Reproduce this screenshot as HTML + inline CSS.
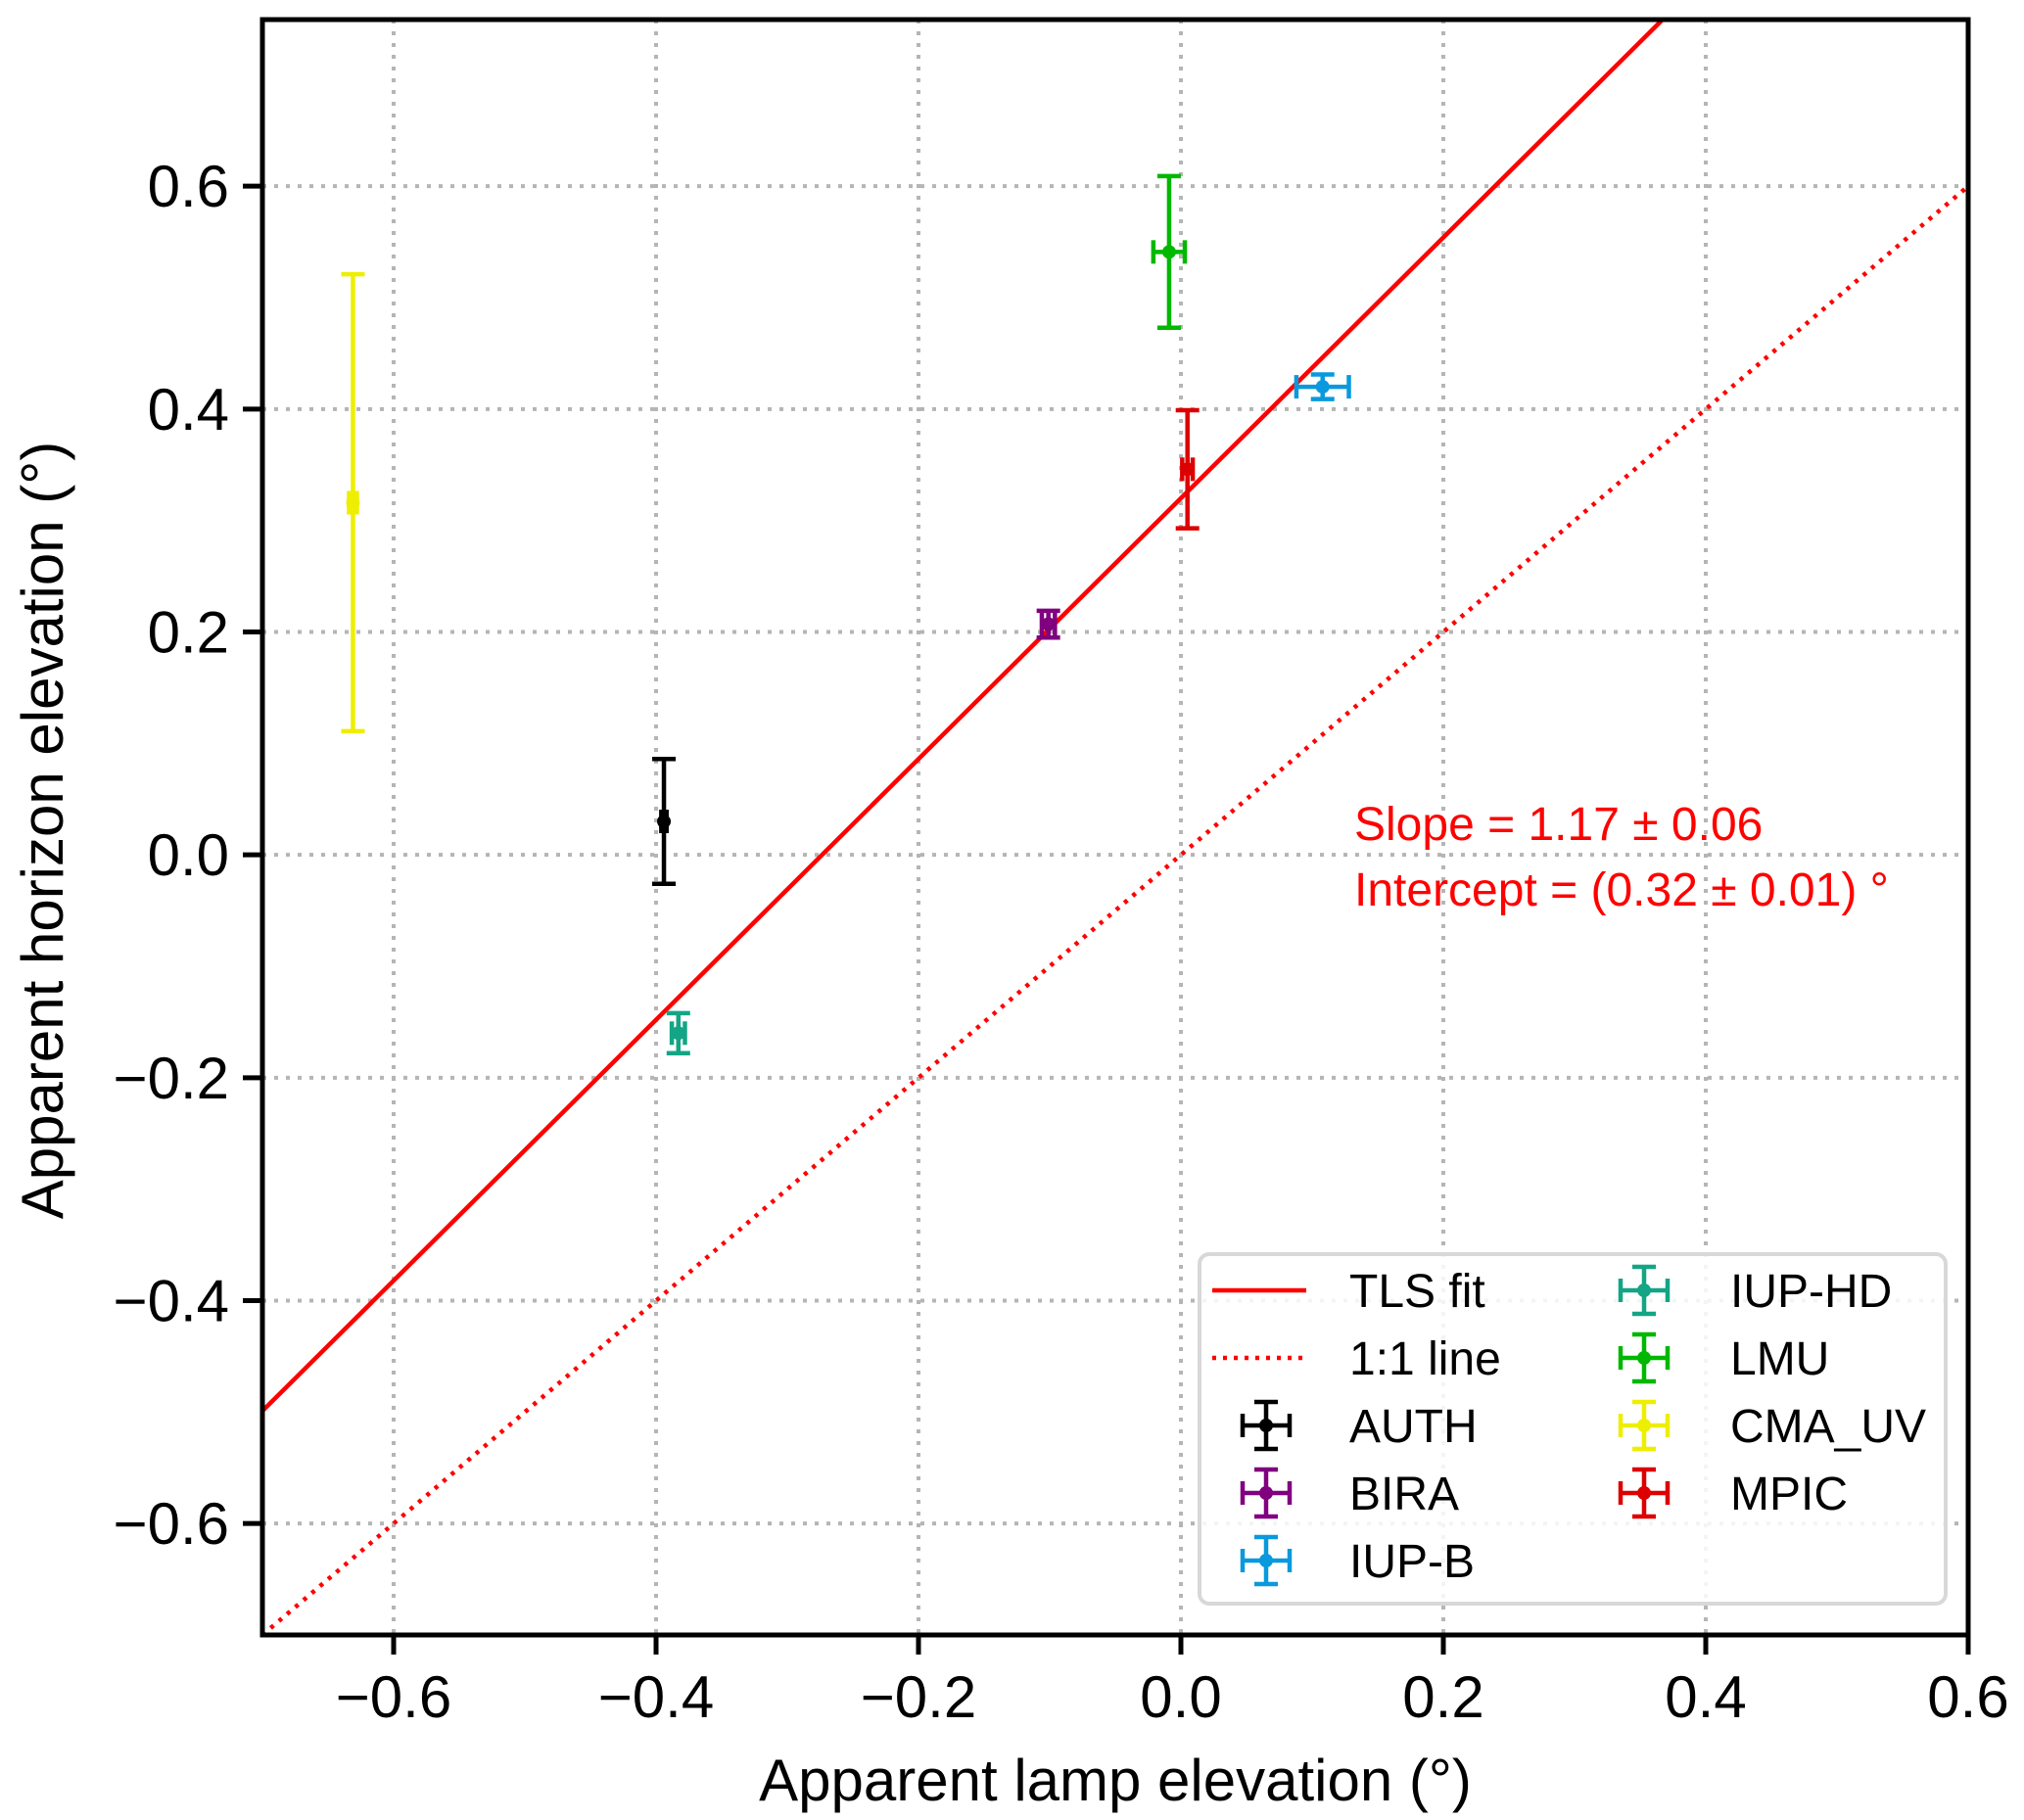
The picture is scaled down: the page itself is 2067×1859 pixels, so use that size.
<!DOCTYPE html>
<html><head><meta charset="utf-8"><style>
html,body{margin:0;padding:0;background:#fff;}
svg{display:block;font-family:"Liberation Sans",Arial,sans-serif;}
</style></head><body>
<svg id="chart" width="2067" height="1859" viewBox="0 0 2067 1859" xmlns="http://www.w3.org/2000/svg">
<rect width="2067" height="1859" fill="#fff"/>
<g id="grid"></g>
<g id="lines"></g>
<g id="points"></g>
<g id="axes"></g>
<text x="1383" y="858" font-size="48" fill="#ff0000">Slope = 1.17 ± 0.06</text>
<text x="1383" y="925" font-size="48" fill="#ff0000">Intercept = (0.32 ± 0.01) °</text>
<g id="legend"></g>
<text x="1139" y="1839" font-size="60" text-anchor="middle">Apparent lamp elevation (°)</text>
<text transform="translate(64,848) rotate(-90)" font-size="60" text-anchor="middle">Apparent horizon elevation (°)</text>
</svg>
<script>
const names = ['AUTH','BIRA','IUP-B','IUP-HD','LMU','CMA_UV','MPIC'];
const colors = ['#000000','#800080','#0a99dd','#13a585','#00b800','#eeee00','#dd0000'];
const xVals = [-0.394,-0.101,0.108,-0.383,-0.009,-0.631,0.005];
const yVals = [0.030,0.207,0.420,-0.160,0.541,0.316,0.346];
const xErr = [0.002,0.005,0.020,0.005,0.012,0.003,0.004];
const yErr = [0.056,0.012,0.011,0.018,0.068,0.205,0.053];
const fitSlope = 1.17;
const fitIntercept = 0.32;
const xTicks = [-0.6,-0.4,-0.2,0.0,0.2,0.4,0.6];
const yTicks = [-0.6,-0.4,-0.2,0.0,0.2,0.4,0.6];
const xTickLabels = ['\u22120.6','\u22120.4','\u22120.2','0.0','0.2','0.4','0.6'];
const yTickLabels = ['\u22120.6','\u22120.4','\u22120.2','0.0','0.2','0.4','0.6'];

const X0=268, X1=2010, XMIN=-0.7, XMAX=0.6;
const Y0=1670, Y1=20, YMIN=-0.7, YMAX=0.7495;
const sx = v => X0 + (v-XMIN)/(XMAX-XMIN)*(X1-X0);
const sy = v => Y0 - (v-YMIN)/(YMAX-YMIN)*(Y0-Y1);
const NS='http://www.w3.org/2000/svg';
function mk(tag, attrs, parent){const e=document.createElementNS(NS,tag);for(const k in attrs)e.setAttribute(k,attrs[k]);parent.appendChild(e);return e;}

const grid=document.getElementById('grid');
xTicks.forEach(t=>{const l=mk('line',{x1:sx(t),x2:sx(t),y1:Y1,y2:Y0,stroke:'#b5b5b5','stroke-width':4,'stroke-dasharray':'4,8'},grid);

});
yTicks.forEach(t=>{const l=mk('line',{x1:X0,x2:X1,y1:sy(t),y2:sy(t),stroke:'#b5b5b5','stroke-width':4,'stroke-dasharray':'4,8'},grid);

});

const lines=document.getElementById('lines');
const clip=mk('clipPath',{id:'pc'},lines); mk('rect',{x:X0,y:Y1,width:X1-X0,height:Y0-Y1},clip);
const fit=mk('line',{x1:sx(XMIN),y1:sy(fitSlope*XMIN+fitIntercept),x2:sx(XMAX),y2:sy(fitSlope*XMAX+fitIntercept),stroke:'#ff0000','stroke-width':4.5,'clip-path':'url(#pc)'},lines);


const one=mk('line',{x1:sx(XMIN),y1:sy(XMIN),x2:sx(XMAX),y2:sy(XMAX),stroke:'#ff0000','stroke-width':4.5,'stroke-dasharray':'4,7','clip-path':'url(#pc)'},lines);



function errMark(g,cx,cy,xe,ye,c){
  mk('line',{x1:cx-xe,x2:cx+xe,y1:cy,y2:cy,stroke:c,'stroke-width':4.5},g);
  mk('line',{x1:cx,x2:cx,y1:cy-ye,y2:cy+ye,stroke:c,'stroke-width':4.5},g);
  mk('line',{x1:cx-12,x2:cx+12,y1:cy-ye,y2:cy-ye,stroke:c,'stroke-width':4.5},g);
  mk('line',{x1:cx-12,x2:cx+12,y1:cy+ye,y2:cy+ye,stroke:c,'stroke-width':4.5},g);
  mk('line',{x1:cx-xe,x2:cx-xe,y1:cy-12,y2:cy+12,stroke:c,'stroke-width':4.5},g);
  mk('line',{x1:cx+xe,x2:cx+xe,y1:cy-12,y2:cy+12,stroke:c,'stroke-width':4.5},g);
  mk('circle',{cx:cx,cy:cy,r:7,fill:c},g);
}
const pts=document.getElementById('points');
names.forEach((n,i)=>{
  const g=mk('g',{},pts);
  
  
  const cx=sx(xVals[i]), cy=sy(yVals[i]);
  errMark(g,cx,cy,sx(xVals[i]+xErr[i])-cx,cy-sy(yVals[i]+yErr[i]),colors[i]);
});

const axes=document.getElementById('axes');
mk('rect',{x:X0,y:Y1,width:X1-X0,height:Y0-Y1,fill:'none',stroke:'#000','stroke-width':5},axes);
xTicks.forEach((t,i)=>{
  mk('line',{x1:sx(t),x2:sx(t),y1:Y0,y2:Y0+20,stroke:'#000','stroke-width':5},axes);
  const tx=mk('text',{x:sx(t),y:Y0+84,'font-size':60,'text-anchor':'middle'},axes);
  tx.textContent=xTickLabels[i];
  
  
});
yTicks.forEach((t,i)=>{
  mk('line',{x1:X0-20,x2:X0,y1:sy(t),y2:sy(t),stroke:'#000','stroke-width':5},axes);
  const tx=mk('text',{x:X0-34,y:sy(t)+21,'font-size':60,'text-anchor':'end'},axes);
  tx.textContent=yTickLabels[i];
  
  
});

const leg=document.getElementById('legend');
mk('rect',{x:1225,y:1281,width:762,height:357,rx:10,fill:'#fff','fill-opacity':0.85,stroke:'#d8d8d8','stroke-width':4},leg);
const rowsY=[1318,1387,1456,1525,1594];
function legText(x,y,s){const t=mk('text',{x:x,y:y+17,'font-size':48},leg);t.textContent=s;

}
mk('line',{x1:1238,x2:1334,y1:rowsY[0],y2:rowsY[0],stroke:'#ff0000','stroke-width':4.5},leg);
legText(1378,rowsY[0],'TLS fit');
mk('line',{x1:1238,x2:1334,y1:rowsY[1],y2:rowsY[1],stroke:'#ff0000','stroke-width':4.5,'stroke-dasharray':'4,7'},leg);
legText(1378,rowsY[1],'1:1 line');
names.forEach((n,i)=>{
  const slot=i+2; const col=slot<5?0:1; const row=slot<5?slot:slot-5;
  const hx=col?1679:1293, tx=col?1767:1378, y=rowsY[row];
  const g=mk('g',{},leg);
  
  
  errMark(g,hx,y,24,24,colors[i]);
  legText(tx,y,n);
});
</script>
</body></html>
